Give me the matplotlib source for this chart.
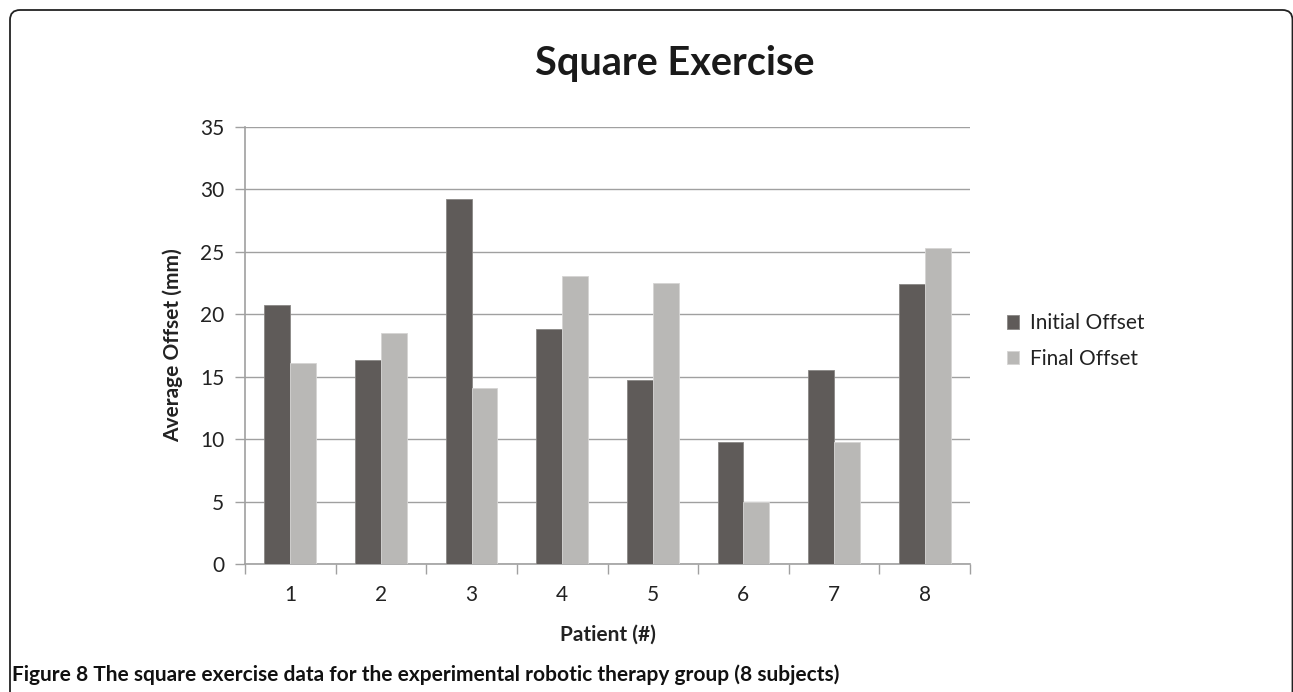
import matplotlib
matplotlib.use("Agg")
import matplotlib.pyplot as plt
import numpy as np
from matplotlib.path import Path
from matplotlib.patches import PathPatch

patients = ["1", "2", "3", "4", "5", "6", "7", "8"]
initial_offset = [20.75, 16.3, 29.2, 18.8, 14.7, 9.8, 15.5, 22.45]
final_offset = [16.1, 18.5, 14.1, 23.1, 22.5, 5.0, 9.8, 25.3]
yticks = [0, 5, 10, 15, 20, 25, 30, 35]

FONT = ["Lato", "DejaVu Sans"]
plt.rcParams['font.family'] = FONT

W, H = 1293, 692
fig = plt.figure(figsize=(W / 100, H / 100), dpi=100)

# rounded frame (open at bottom, right side runs off the image)
frame_ax = fig.add_axes([0, 0, 1, 1])
frame_ax.set_xlim(0, W)
frame_ax.set_ylim(H, 0)
frame_ax.axis('off')
r = 10
xr = 1292.5
verts = [(10, H + 5), (10, 10 + r), (10, 10), (10 + r, 10), (xr - r, 10),
         (xr, 10), (xr, 10 + r), (xr, H + 5)]
codes = [Path.MOVETO, Path.LINETO, Path.CURVE3, Path.CURVE3, Path.LINETO,
         Path.CURVE3, Path.CURVE3, Path.LINETO]
frame_ax.add_patch(PathPatch(Path(verts, codes), fill=False, edgecolor='#222222', lw=1.3))

ax = fig.add_axes([245 / W, 1 - 564 / H, (970 - 245) / W, (564 - 127) / H])
x = np.arange(len(patients))
bw = 1 / 3.5
ax.bar(x - bw / 2, initial_offset, bw, color='#5f5b59', edgecolor='#8a8785', lw=0.6,
       label='Initial Offset', zorder=3)
ax.bar(x + bw / 2, final_offset, bw, color='#b9b8b6', edgecolor='#d6d5d4', lw=0.6,
       label='Final Offset', zorder=3)

ax.set_xlim(-0.5, len(patients) - 0.5)
ax.set_ylim(0, 35)
ax.set_yticks(yticks)
ax.set_yticklabels([str(v) for v in yticks], fontsize=15, color='#222222')
ax.set_xticks(x)
ax.set_xticklabels(patients, fontsize=15, color='#222222')
ax.set_xticks(np.arange(-0.5, len(patients), 1.0), minor=True)
ax.tick_params(axis='x', which='major', length=0, pad=15)
ax.tick_params(axis='x', which='minor', length=7, width=1, color='#a0a0a0', direction='out')
ax.tick_params(axis='y', length=7, width=1, color='#a0a0a0', direction='out', pad=8)
ax.grid(axis='y', color='#a0a0a0', lw=1, zorder=0)
for s in ['top', 'right']:
    ax.spines[s].set_visible(False)
for s in ['left', 'bottom']:
    ax.spines[s].set_color('#a0a0a0')
    ax.spines[s].set_linewidth(1.2)

ax.set_ylabel('Average Offset (mm)', fontsize=15, fontweight='bold', color='#222222', labelpad=12)
ax.set_xlabel('Patient (#)', fontsize=15, fontweight='bold', color='#222222', labelpad=14)

fig.text(675 / W, 1 - 63 / H, 'Square Exercise', fontsize=28.5, fontweight='bold',
         ha='center', va='center', color='#1a1a1a')

leg = ax.legend(loc='center left', bbox_to_anchor=(1.025, 0.51), frameon=False,
                fontsize=15, handlelength=0.6, handleheight=0.6, handletextpad=0.5,
                labelspacing=0.75)
for t in leg.get_texts():
    t.set_color('#222222')

fig.text(12 / W, 1 - 675 / H,
         'Figure 8 The square exercise data for the experimental robotic therapy group (8 subjects)',
         fontsize=15, fontweight='bold', ha='left', va='center', color='#111111')

fig.savefig('out.png', dpi=100)
